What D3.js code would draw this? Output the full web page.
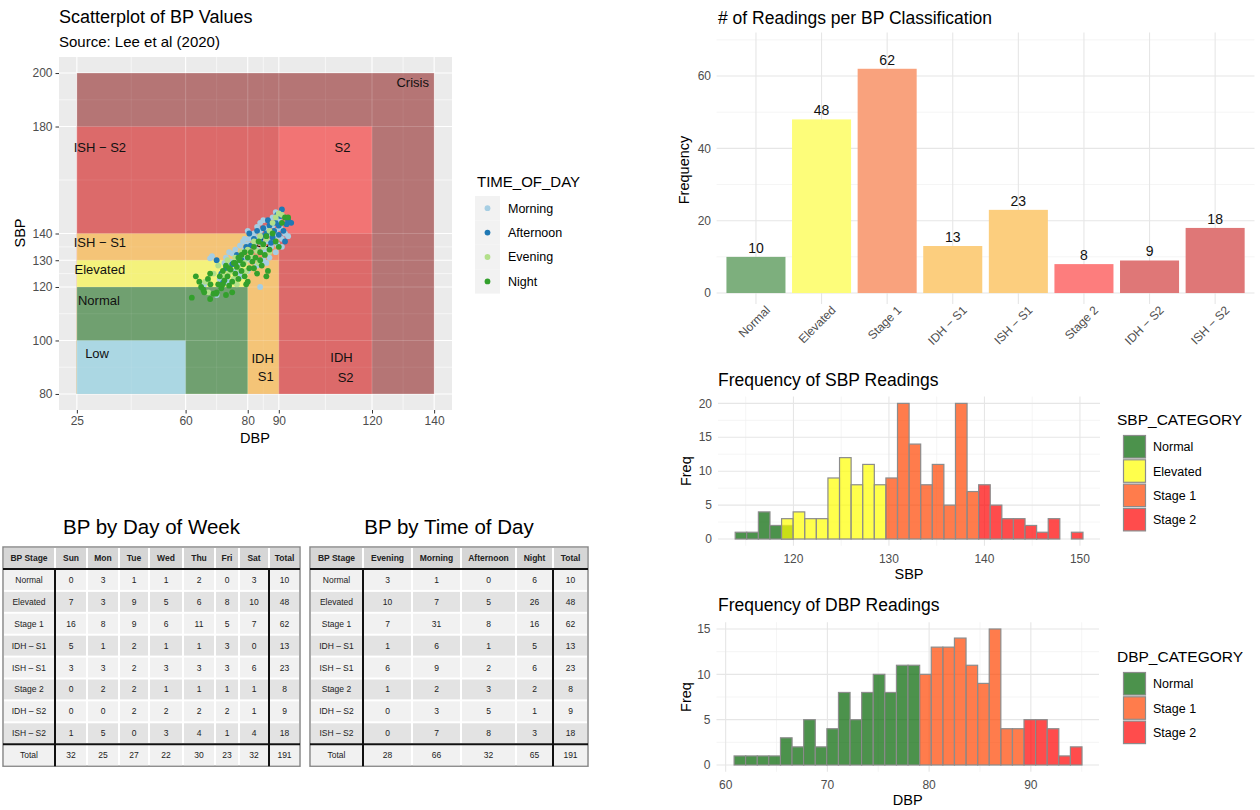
<!DOCTYPE html>
<html>
<head>
<meta charset="utf-8">
<script src="https://cdn.jsdelivr.net/npm/d3@7"></script>
<style>
  body { margin: 0; background: #fff; }
  svg { font-family: "Liberation Sans", Arial, Helvetica, sans-serif; }
</style>
</head>
<body>
<svg id="chart" width="1260" height="810"></svg>
<script>
// ---------- scatter: BP zones ----------
const zoneNames = ['Crisis', 'Stage 2', 'S2 overlap', 'Stage 1', 'S1 overlap', 'Elevated', 'Normal', 'Low'];
const zoneDBP = [[25, 140], [25, 120], [90, 120], [25, 90], [80, 90], [25, 80], [25, 80], [25, 60]];
const zoneSBP = [[80, 200], [80, 180], [140, 180], [80, 140], [130, 140], [80, 130], [80, 120], [80, 100]];
const zoneColors = ['#b57575', '#dc6a6a', '#f27474', '#f4c477', '#f2956a', '#f4f27c', '#70a070', '#abd7e3'];

const zoneLabels = ['Crisis', 'S2', 'ISH − S2', 'ISH − S1', 'Elevated', 'Normal', 'Low', 'S1', 'IDH', 'S1', 'IDH', 'S2'];
const zoneLabelDBP = [133.1, 110.5, 32.4, 32.4, 32.4, 32.1, 31.5, 85, 84.8, 85.8, 110.2, 111.5];
const zoneLabelSBP = [196.6, 172, 172, 136.8, 126.7, 115.1, 95, 136.8, 93.1, 86.7, 93.5, 86];

// ---------- scatter: readings [DBP, SBP] by time of day ----------
const timeNames = ['Morning', 'Afternoon', 'Evening', 'Night'];
const timeColors = ['#a6cee3', '#1f78b4', '#b2df8a', '#33a02c'];

const nightPts = [
  [62, 116], [63.3, 124], [64.4, 122], [65, 120], [65.7, 119], [67.2, 123], [67.9, 125], [67.9, 115.5],
  [69, 117.5], [69.8, 117.5], [70.5, 121], [71, 124], [71.5, 119.5], [72, 126], [72.5, 122.5], [73, 128],
  [73.5, 124], [74, 120.5], [74.5, 126.5], [75, 122], [75.5, 129], [76, 125], [76.5, 127.5], [77, 123],
  [77.5, 130], [78, 126], [78.5, 128.5], [79, 124], [79.5, 121], [80, 131], [80.5, 127], [81, 133],
  [81.5, 129.5], [82, 135], [82.5, 131], [83, 125], [83.5, 137], [84, 133], [84.5, 128], [85, 136],
  [85.5, 132], [86, 139], [86.5, 126], [87, 134], [88, 140], [89, 137], [90, 135], [91, 144],
  [92, 146], [93, 146], [70, 118], [72, 121], [74, 127], [76, 129], [78, 132], [80, 122],
  [82, 127], [84, 130], [86, 124], [68, 121], [66, 118], [73, 117], [75, 118], [77, 131], [79, 133]
];
const morningPts = [
  [67.9, 130.7], [68.5, 131.5], [66, 121], [70, 117], [71, 123], [72.5, 129], [73, 131], [74, 133],
  [74.5, 129.5], [75, 132.5], [76, 134], [76.5, 130], [77, 128], [77.5, 135.5], [78, 132], [78.5, 137],
  [79, 134], [79.5, 130.5], [80, 136], [80.5, 138], [81, 133], [81.5, 139.5], [82, 136], [82.5, 131],
  [83, 134], [83.5, 138.5], [84, 141], [84.5, 136.5], [85, 133.5], [85.5, 139], [86, 142], [86.5, 137],
  [87, 140], [87.5, 135], [88, 143], [88.5, 139], [89, 141], [89.5, 136], [90, 139], [90.5, 142],
  [91, 138], [92, 140], [93, 139], [84, 120], [85, 130], [83, 128], [80, 126], [78, 124],
  [81, 130], [82, 140], [79, 138], [86, 134], [87, 131], [89, 133], [88, 146], [84, 144],
  [91, 135], [76, 126], [77.5, 125], [80, 141], [83, 142.5], [85, 145], [89, 148], [90, 145],
  [86, 129], [73.5, 122]
];
const afternoonPts = [
  [70, 130], [71.5, 125], [73, 127], [75, 128.5], [76.5, 132], [78, 130], [79.5, 135], [80.5, 140],
  [82, 138], [83, 141], [84, 137], [85, 142], [86, 140], [86.5, 145], [87, 143], [88, 138.5],
  [88.5, 141], [89, 144], [89.5, 147], [90, 143], [90.5, 146.5], [91, 149], [91.5, 141], [92, 137],
  [92.5, 143.5], [93, 145], [94, 144], [87.5, 136.5], [90, 139.5], [85, 139], [81, 135.5], [72, 121.5]
];
const eveningPts = [
  [66.3, 122], [67.3, 118], [69, 125], [70.5, 128], [72, 124.5], [73.5, 130], [74, 125.5], [75.5, 123],
  [76, 131], [77, 127], [78, 133], [79, 129], [80, 134], [81, 131.5], [82, 137], [83, 133.5],
  [84, 139], [85, 135], [86, 138], [87, 141], [88, 144], [89, 146], [90, 147.5], [91, 147],
  [76.5, 121], [79.5, 126], [83.5, 129], [87, 133]
];

// ---------- bar chart ----------
const bpCategories = ['Normal', 'Elevated', 'Stage 1', 'IDH − S1', 'ISH − S1', 'Stage 2', 'IDH − S2', 'ISH − S2'];
const bpCounts = [10, 48, 62, 13, 23, 8, 9, 18];
const bpColors = ['#7daf7d', '#fdfd7a', '#f9a27d', '#fcce7e', '#fcce7e', '#fd7d7d', '#df7777', '#df7777'];

// ---------- histograms (30 bins each) ----------
const catColors = { 'Normal': '#006400', 'Elevated': '#ffff00', 'Stage 1': '#ff4500', 'Stage 2': '#ff0000' };

const sbpBinStart = 113.9, sbpBinWidth = 1.214;
const sbpNormal   = [1, 1, 4, 2, 2, 0, 0, 0, 0, 0, 0, 0, 0, 0, 0, 0, 0, 0, 0, 0, 0, 0, 0, 0, 0, 0, 0, 0, 0, 0];
const sbpElevated = [0, 0, 0, 0, 3, 4, 3, 3, 9, 12, 8, 11, 8, 0, 0, 0, 0, 0, 0, 0, 0, 0, 0, 0, 0, 0, 0, 0, 0, 0];
const sbpStage1   = [0, 0, 0, 0, 0, 0, 0, 0, 0, 0, 0, 0, 0, 9, 20, 14, 8, 11, 5, 20, 7, 0, 0, 0, 0, 0, 0, 0, 0, 0];
const sbpStage2   = [0, 0, 0, 0, 0, 0, 0, 0, 0, 0, 0, 0, 0, 0, 0, 0, 0, 0, 0, 0, 0, 8, 5, 3, 3, 2, 1, 3, 0, 1];

const dbpBinStart = 60.83, dbpBinWidth = 1.14;
const dbpNormal = [1, 1, 1, 1, 3, 2, 5, 2, 4, 8, 5, 8, 10, 8, 11, 11, 0, 0, 0, 0, 0, 0, 0, 0, 0, 0, 0, 0, 0, 0];
const dbpStage1 = [0, 0, 0, 0, 0, 0, 0, 0, 0, 0, 0, 0, 0, 0, 0, 0, 10, 13, 13, 14, 11, 9, 15, 4, 4, 0, 0, 0, 0, 0];
const dbpStage2 = [0, 0, 0, 0, 0, 0, 0, 0, 0, 0, 0, 0, 0, 0, 0, 0, 0, 0, 0, 0, 0, 0, 0, 0, 0, 5, 5, 4, 1, 2];

// ---------- tables ----------
const dayHeader = ['BP Stage', 'Sun', 'Mon', 'Tue', 'Wed', 'Thu', 'Fri', 'Sat', 'Total'];
const dayRows = [
  ['Normal', 0, 3, 1, 1, 2, 0, 3, 10],
  ['Elevated', 7, 3, 9, 5, 6, 8, 10, 48],
  ['Stage 1', 16, 8, 9, 6, 11, 5, 7, 62],
  ['IDH – S1', 5, 1, 2, 1, 1, 3, 0, 13],
  ['ISH – S1', 3, 3, 2, 3, 3, 3, 6, 23],
  ['Stage 2', 0, 2, 2, 1, 1, 1, 1, 8],
  ['IDH – S2', 0, 0, 2, 2, 2, 2, 1, 9],
  ['ISH – S2', 1, 5, 0, 3, 4, 1, 4, 18]
];
const dayTotals = ['Total', 32, 25, 27, 22, 30, 23, 32, 191];

const timeHeader = ['BP Stage', 'Evening', 'Morning', 'Afternoon', 'Night', 'Total'];
const timeRows = [
  ['Normal', 3, 1, 0, 6, 10],
  ['Elevated', 10, 7, 5, 26, 48],
  ['Stage 1', 7, 31, 8, 16, 62],
  ['IDH – S1', 1, 6, 1, 5, 13],
  ['ISH – S1', 6, 9, 2, 6, 23],
  ['Stage 2', 1, 2, 3, 2, 8],
  ['IDH – S2', 0, 3, 5, 1, 9],
  ['ISH – S2', 0, 7, 8, 3, 18]
];
const timeTotals = ['Total', 28, 66, 32, 65, 191];

const svg = d3.select('#chart');

function gridLines(g, xs, ys, xVals, yVals, width, color, opacity) {
  const [x0, x1] = xs.range();
  const [y0, y1] = ys.range();
  g.selectAll(null).data(xVals).join('line')
    .attr('x1', d => xs(d)).attr('x2', d => xs(d))
    .attr('y1', y0).attr('y2', y1)
    .attr('stroke', color).attr('stroke-width', width).attr('stroke-opacity', opacity);
  g.selectAll(null).data(yVals).join('line')
    .attr('y1', d => ys(d)).attr('y2', d => ys(d))
    .attr('x1', x0).attr('x2', x1)
    .attr('stroke', color).attr('stroke-width', width).attr('stroke-opacity', opacity);
}

// ================= SCATTERPLOT =================
(function scatter() {
  const x = d3.scaleLinear().domain([19.25, 145.75]).range([59, 452]);
  const y = d3.scaleLinear().domain([74, 206]).range([410, 57]);
  const xMajor = [25, 60, 80, 90, 120, 140], xMinor = [42.5, 70, 85, 105, 130];
  const yMajor = [80, 100, 120, 130, 140, 180, 200], yMinor = [90, 110, 125, 135, 160, 190];

  const g = svg.append('g');
  g.append('rect').attr('x', 59).attr('y', 57).attr('width', 393).attr('height', 353).attr('fill', '#ebebeb');
  gridLines(g.append('g'), x, y, xMinor, yMinor, 0.6, '#fff', 1);
  gridLines(g.append('g'), x, y, xMajor, yMajor, 1.1, '#fff', 1);

  g.append('g').selectAll('rect').data(zoneNames).join('rect')
    .attr('x', (d, i) => x(zoneDBP[i][0]))
    .attr('width', (d, i) => x(zoneDBP[i][1]) - x(zoneDBP[i][0]))
    .attr('y', (d, i) => y(zoneSBP[i][1]))
    .attr('height', (d, i) => y(zoneSBP[i][0]) - y(zoneSBP[i][1]))
    .attr('fill', (d, i) => zoneColors[i]);

  // grid faintly showing through the zones
  gridLines(g.append('g'), x, y, xMinor, yMinor, 0.6, '#fff', 0.12);
  gridLines(g.append('g'), x, y, xMajor, yMajor, 1.1, '#fff', 0.18);

  g.append('g').selectAll('text').data(zoneLabels).join('text')
    .attr('x', (d, i) => x(zoneLabelDBP[i]))
    .attr('y', (d, i) => y(zoneLabelSBP[i]))
    .attr('dy', '0.35em')
    .attr('text-anchor', 'middle')
    .attr('font-size', 13).attr('fill', '#111')
    .text(d => d);

  const groups = [morningPts, afternoonPts, eveningPts, nightPts];
  const pts = [];
  groups.forEach((arr, gi) => arr.forEach(p => pts.push({ dbp: p[0], sbp: p[1], t: gi })));
  g.append('g').selectAll('circle').data(pts).join('circle')
    .attr('cx', d => x(d.dbp)).attr('cy', d => y(d.sbp))
    .attr('r', 2.9)
    .attr('fill', d => timeColors[d.t]);

  const xAxis = g.append('g').attr('transform', 'translate(0,410)')
    .call(d3.axisBottom(x).tickValues(xMajor).tickSize(3.5).tickPadding(3));
  const yAxis = g.append('g').attr('transform', 'translate(59,0)')
    .call(d3.axisLeft(y).tickValues(yMajor).tickSize(3.5).tickPadding(3));
  [xAxis, yAxis].forEach(a => {
    a.select('.domain').remove();
    a.selectAll('line').attr('stroke', '#333');
    a.selectAll('text').attr('fill', '#4d4d4d').attr('font-size', 12).attr('font-family', null);
  });

  g.append('text').attr('x', 59).attr('y', 23).attr('font-size', 18).text('Scatterplot of BP Values');
  g.append('text').attr('x', 59).attr('y', 47).attr('font-size', 15).text('Source: Lee et al (2020)');
  g.append('text').attr('x', 255).attr('y', 443).attr('text-anchor', 'middle').attr('font-size', 14.5).text('DBP');
  g.append('text').attr('transform', 'translate(25,233) rotate(-90)').attr('text-anchor', 'middle')
    .attr('font-size', 14.5).text('SBP');

  // legend
  const lg = g.append('g').attr('transform', 'translate(475,0)');
  lg.append('text').attr('x', 2).attr('y', 187).attr('font-size', 15).text('TIME_OF_DAY');
  const item = lg.selectAll('g.key').data(timeNames).join('g').attr('class', 'key')
    .attr('transform', (d, i) => `translate(0,${196 + i * 24.4})`);
  item.append('rect').attr('width', 25).attr('height', 24.4).attr('fill', '#f2f2f2');
  item.append('circle').attr('cx', 12.5).attr('cy', 12.2).attr('r', 2.9).attr('fill', (d, i) => timeColors[i]);
  item.append('text').attr('x', 33).attr('y', 12.2).attr('dy', '0.35em').attr('font-size', 12.5).text(d => d);
})();

// ================= BAR CHART =================
(function barChart() {
  const left = 716.6, right = 1254.5, top = 32.6, bottom = 303.9;
  const x = d3.scaleBand().domain(bpCategories).range([left, right]).paddingInner(0.1).paddingOuter(0.15);
  const y = d3.scaleLinear().domain([-3, 72]).range([bottom, top]);
  const cx = d => x(d) + x.bandwidth() / 2;
  const g = svg.append('g');

  const gg = g.append('g');
  gg.selectAll(null).data([10, 30, 50, 70]).join('line')
    .attr('x1', left).attr('x2', right).attr('y1', d => y(d)).attr('y2', d => y(d))
    .attr('stroke', '#f0f0f0').attr('stroke-width', 0.7);
  gg.selectAll(null).data([0, 20, 40, 60]).join('line')
    .attr('x1', left).attr('x2', right).attr('y1', d => y(d)).attr('y2', d => y(d))
    .attr('stroke', '#e6e6e6').attr('stroke-width', 1.1);
  gg.selectAll(null).data(bpCategories).join('line')
    .attr('x1', cx).attr('x2', cx)
    .attr('y1', top).attr('y2', bottom)
    .attr('stroke', '#e6e6e6').attr('stroke-width', 1.1);

  g.append('g').selectAll('rect').data(bpCategories).join('rect')
    .attr('x', d => x(d)).attr('width', x.bandwidth())
    .attr('y', (d, i) => y(bpCounts[i])).attr('height', (d, i) => y(0) - y(bpCounts[i]))
    .attr('fill', (d, i) => bpColors[i]);

  g.append('g').selectAll('text').data(bpCategories).join('text')
    .attr('x', cx).attr('y', (d, i) => y(bpCounts[i]) - 4)
    .attr('text-anchor', 'middle').attr('font-size', 14).attr('fill', '#111')
    .text((d, i) => bpCounts[i]);

  g.append('g').selectAll('text').data([0, 20, 40, 60]).join('text')
    .attr('x', 711).attr('y', d => y(d)).attr('dy', '0.35em').attr('text-anchor', 'end')
    .attr('font-size', 12).attr('fill', '#4d4d4d').text(d => d);

  g.append('g').selectAll('text').data(bpCategories).join('text')
    .attr('transform', d => `translate(${cx(d) + 12},308) rotate(-45)`)
    .attr('text-anchor', 'end').attr('dy', '0.35em')
    .attr('font-size', 12).attr('fill', '#4d4d4d').text(d => d);

  g.append('text').attr('x', 718).attr('y', 24).attr('font-size', 17.5).text('# of Readings per BP Classification');
  g.append('text').attr('transform', 'translate(689,170) rotate(-90)').attr('text-anchor', 'middle')
    .attr('font-size', 14.5).text('Frequency');
})();

// ================= HISTOGRAMS =================
function histogram(cfg) {
  const x = d3.scaleLinear().domain(cfg.xDomain).range([cfg.left, cfg.right]);
  const y = d3.scaleLinear().domain(cfg.yDomain).range([cfg.bottom, cfg.top]);
  const g = svg.append('g');
  gridLines(g.append('g'), x, y, cfg.xMinor, cfg.yMinor, 0.7, '#f0f0f0', 1);
  gridLines(g.append('g'), x, y, cfg.xMajor, cfg.yMajor, 1.1, '#e6e6e6', 1);

  cfg.series.forEach(s => {
    g.append('g').selectAll('rect').data(s.counts).join('rect')
      .attr('x', (d, i) => x(cfg.start + i * cfg.width))
      .attr('width', (d, i) => x(cfg.start + (i + 1) * cfg.width) - x(cfg.start + i * cfg.width))
      .attr('y', d => y(d)).attr('height', d => y(0) - y(d))
      .attr('fill', catColors[s.name]).attr('fill-opacity', 0.7)
      .attr('stroke', '#8c8c8c').attr('stroke-width', 1.2);
  });

  g.append('g').selectAll('text').data(cfg.yMajor).join('text')
    .attr('x', cfg.left - 6).attr('y', d => y(d)).attr('dy', '0.35em').attr('text-anchor', 'end')
    .attr('font-size', 12).attr('fill', '#4d4d4d').text(d => d);
  g.append('g').selectAll('text').data(cfg.xMajor).join('text')
    .attr('x', d => x(d)).attr('y', cfg.bottom + 17).attr('text-anchor', 'middle')
    .attr('font-size', 12).attr('fill', '#4d4d4d').text(d => d);

  g.append('text').attr('x', 718).attr('y', cfg.titleY).attr('font-size', 17.5).text(cfg.title);
  g.append('text').attr('x', (cfg.left + cfg.right) / 2).attr('y', cfg.bottom + 33)
    .attr('text-anchor', 'middle').attr('font-size', 14.5).text(cfg.xTitle);
  g.append('text').attr('transform', `translate(691,${(cfg.top + cfg.bottom) / 2}) rotate(-90)`)
    .attr('text-anchor', 'middle').attr('font-size', 14.5).text('Freq');

  // legend
  const lg = g.append('g').attr('transform', `translate(1117,${cfg.legendY})`);
  lg.append('text').attr('x', 0).attr('y', 0).attr('font-size', 15.5).text(cfg.legendTitle);
  const item = lg.selectAll('g.key').data(cfg.series).join('g').attr('class', 'key')
    .attr('transform', (d, i) => `translate(6,${10 + i * 24.3})`);
  item.append('rect').attr('x', 0.5).attr('y', 0.5).attr('width', 22).attr('height', 22.5)
    .attr('fill', d => catColors[d.name]).attr('fill-opacity', 0.7)
    .attr('stroke', '#8c8c8c').attr('stroke-width', 1.2);
  item.append('text').attr('x', 30).attr('y', 12).attr('dy', '0.35em').attr('font-size', 12.5).text(d => d.name);
}

histogram({
  title: 'Frequency of SBP Readings', titleY: 386, xTitle: 'SBP', legendTitle: 'SBP_CATEGORY', legendY: 425,
  xDomain: [112.1, 152.1], yDomain: [-1, 21], left: 718, right: 1100, top: 396.6, bottom: 545.8,
  xMajor: [120, 130, 140, 150], xMinor: [115, 125, 135, 145], yMajor: [0, 5, 10, 15, 20], yMinor: [2.5, 7.5, 12.5, 17.5],
  start: sbpBinStart, width: sbpBinWidth,
  series: [
    { name: 'Normal', counts: sbpNormal }, { name: 'Elevated', counts: sbpElevated },
    { name: 'Stage 1', counts: sbpStage1 }, { name: 'Stage 2', counts: sbpStage2 }
  ]
});

histogram({
  title: 'Frequency of DBP Readings', titleY: 611, xTitle: 'DBP', legendTitle: 'DBP_CATEGORY', legendY: 662,
  xDomain: [59.1, 96.7], yDomain: [-0.75, 15.75], left: 716.5, right: 1099, top: 622.2, bottom: 771.8,
  xMajor: [60, 70, 80, 90], xMinor: [65, 75, 85, 95], yMajor: [0, 5, 10, 15], yMinor: [2.5, 7.5, 12.5],
  start: dbpBinStart, width: dbpBinWidth,
  series: [
    { name: 'Normal', counts: dbpNormal }, { name: 'Stage 1', counts: dbpStage1 }, { name: 'Stage 2', counts: dbpStage2 }
  ]
});

// ================= TABLES =================
function drawTable(cfg) {
  const g = svg.append('g');
  const rows = [cfg.header, ...cfg.rows, cfg.totals];
  const rowEdges = [547, 569];
  cfg.rows.forEach((r, i) => rowEdges.push(569 + (i + 1) * 21.9));
  rowEdges.push(rowEdges[rowEdges.length - 1] + 22);
  const edges = cfg.colEdges;
  const left = edges[0], right = edges[edges.length - 1];
  const top = rowEdges[0], bottom = rowEdges[rowEdges.length - 1];

  g.append('rect').attr('x', left).attr('y', top).attr('width', right - left).attr('height', bottom - top)
    .attr('fill', '#fff').attr('stroke', '#8a8a8a').attr('stroke-width', 1.5);

  const fillFor = ri => ri === 0 ? '#d6d6d6' : (ri === rows.length - 1 ? '#f1f1f1' : (ri % 2 === 1 ? '#f1f1f1' : '#e3e3e3'));

  rows.forEach((row, ri) => {
    const rg = g.append('g');
    rg.selectAll('rect').data(row).join('rect')
      .attr('x', (d, ci) => edges[ci] + 1).attr('y', rowEdges[ri] + 1)
      .attr('width', (d, ci) => edges[ci + 1] - edges[ci] - 2).attr('height', rowEdges[ri + 1] - rowEdges[ri] - 2)
      .attr('fill', fillFor(ri));
    rg.selectAll('text').data(row).join('text')
      .attr('x', (d, ci) => (edges[ci] + edges[ci + 1]) / 2)
      .attr('y', (rowEdges[ri] + rowEdges[ri + 1]) / 2).attr('dy', '0.35em')
      .attr('text-anchor', 'middle').attr('font-size', 8.5).attr('fill', '#222')
      .attr('font-weight', ri === 0 ? 'bold' : null)
      .text(d => d);
  });

  const thick = g.append('g').attr('stroke', '#111').attr('stroke-width', 2);
  thick.append('line').attr('x1', left).attr('x2', right).attr('y1', rowEdges[1]).attr('y2', rowEdges[1]);
  thick.append('line').attr('x1', left).attr('x2', right)
    .attr('y1', rowEdges[rowEdges.length - 2]).attr('y2', rowEdges[rowEdges.length - 2]);
  thick.append('line').attr('x1', edges[1]).attr('x2', edges[1]).attr('y1', rowEdges[1]).attr('y2', bottom);
  thick.append('line').attr('x1', edges[edges.length - 2]).attr('x2', edges[edges.length - 2])
    .attr('y1', rowEdges[1]).attr('y2', bottom);

  g.append('text').attr('x', (left + right) / 2).attr('y', 534).attr('text-anchor', 'middle')
    .attr('font-size', 20.5).text(cfg.title);
}

drawTable({
  title: 'BP by Day of Week', header: dayHeader, rows: dayRows, totals: dayTotals,
  colEdges: [3, 55, 87, 119, 149, 183, 215, 239, 269, 300]
});
drawTable({
  title: 'BP by Time of Day', header: timeHeader, rows: timeRows, totals: timeTotals,
  colEdges: [310, 363, 412, 461, 516, 553, 588]
});
</script>
</body>
</html>
